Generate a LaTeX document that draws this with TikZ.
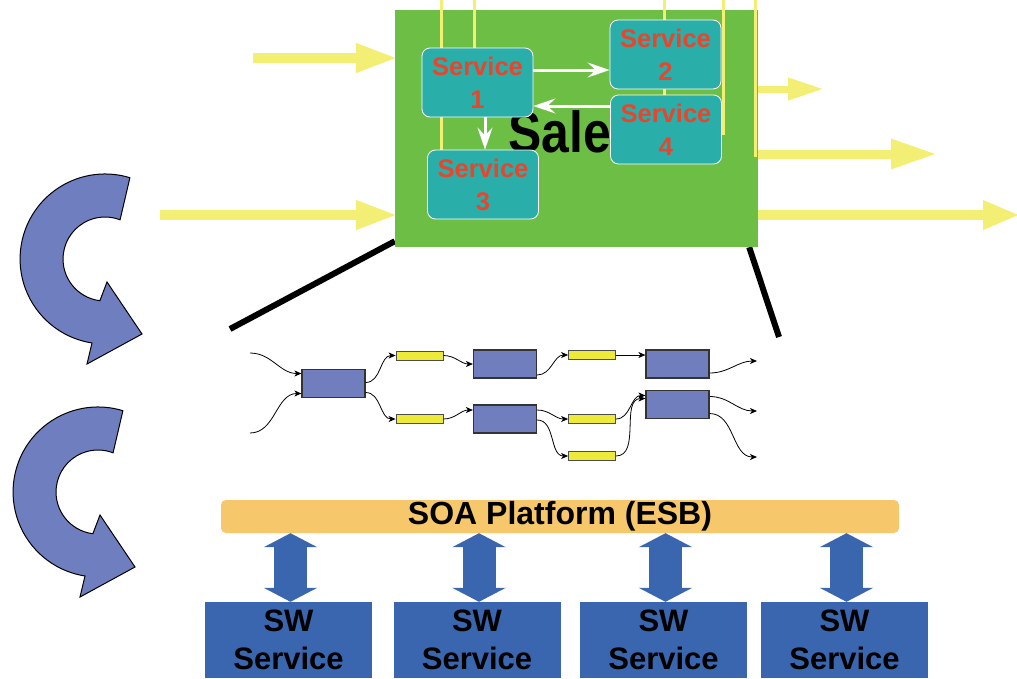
\documentclass[tikz,border=0pt]{standalone}
\usepackage{fontspec}
\setmainfont{Liberation Sans}
\newfontfamily\narrowbold[FakeStretch=0.86]{Liberation Sans Bold}
\usetikzlibrary{arrows.meta}
\definecolor{salesgreen}{HTML}{6DBE45}
\definecolor{svcteal}{HTML}{2AAEA9}
\definecolor{svcred}{HTML}{E8452C}
\definecolor{feedyellow}{HTML}{F3EE74}
\definecolor{cycblue}{HTML}{6F7EBE}
\definecolor{procblue}{HTML}{717EBD}
\definecolor{procyellow}{HTML}{EEEA3A}
\definecolor{esbamber}{HTML}{F7C76B}
\definecolor{swblue}{HTML}{3A66B0}
\tikzset{
  svc/.style={draw=white, line width=0.8pt, fill=svcteal, rounded corners=8pt,
    minimum width=111pt, minimum height=69pt, inner sep=0pt, align=center,
    text=svcred, font=\fontsize{25.5}{33}\selectfont\bfseries},
  handoff/.style={draw=white, line width=3pt, -{Stealth[length=22pt,width=15pt,inset=8pt]}},
  wire/.style={draw=feedyellow, line width=3pt},
  feed/.style={draw=feedyellow, line width=10pt, shorten >=-3pt,
    -{Triangle[length=42pt,width=27pt]}},
  procbox/.style={draw=black!80, line width=1.2pt, fill=procblue,
    minimum width=63pt, minimum height=28pt, inner sep=0pt},
  queue/.style={draw=black!70, line width=0.8pt, fill=procyellow,
    minimum width=47pt, minimum height=9pt, inner sep=0pt},
  flow/.style={line width=0.8pt, -{Stealth[length=7pt,width=6pt,inset=2pt]}},
  zoomline/.style={line width=6pt},
  swbox/.style={fill=swblue, minimum width=167pt, minimum height=76pt, inner sep=0pt,
    align=center, font=\fontsize{31}{38}\selectfont\bfseries},
  duplex/.style={draw=swblue, line width=33pt,
    {Triangle[length=14pt,width=53pt]}-{Triangle[length=14pt,width=53pt]}},
  cycarrow/.pic={
    \draw[line width=1pt, fill=cycblue] (-13,84) -- (-18,105) -- (37,75) -- (2,23)
      -- (-5.1,41.7) arc[start angle=-263, end angle=-69, radius=42]
      -- (24.9,-81.3) arc[start angle=-73, end angle=-261, radius=85] -- cycle;
  }
}
\begin{document}
\begin{tikzpicture}[x=1pt, y=-1pt]
  \useasboundingbox (0,0) rectangle (1017,678);

  % zoom lines behind the sales box
  \coordinate (zl) at (230,329);
  \coordinate (zr) at (779,337);
  \node[fill=salesgreen, minimum width=363pt, minimum height=237pt, inner sep=0pt]
    (salesbox) at (576.5,128.5) {};
  \draw[zoomline] ([yshift=6pt]salesbox.south west) -- (zl);
  \draw[zoomline] ([xshift=-9pt]salesbox.south east) -- (zr);
  \node[fill=salesgreen, minimum width=363pt, minimum height=237pt, inner sep=0pt]
    at (salesbox) {};

  \foreach \x/\y in {441/150, 474/48, 664/95, 723/135, 755/157}
    \draw[wire] (\x,0) -- (\x,\y);

  \node[anchor=base west, inner sep=0pt, font=\fontsize{58}{58}\selectfont\narrowbold]
    (salestext) at (508,152) {Sales};

  \node[svc] (s1) at (477.5,82.5) {Service\\1};
  \node[svc] (s2) at (665.5,54.5) {Service\\2};
  \node[svc] (s4) at (666,129.5) {Service\\4};
  \node[svc] (s3) at (483,184.5) {Service\\3};
  \draw[handoff] ([yshift=12.5pt]s1.east) -- ([yshift=12.5pt]s1.east -| s2.west);
  \draw[handoff] ([yshift=23.5pt]s4.west) -- ([yshift=23.5pt]s4.west -| s1.east);
  \draw[handoff] ([xshift=7.5pt]s1.south) -- ([xshift=7.5pt]s1.south |- s3.north);

  \coordinate (feed1) at (253,58);
  \coordinate (feed2) at (160,215);
  \coordinate (out1) at (821,89);
  \coordinate (out2) at (934,154);
  \coordinate (out3) at (1017,215);
  \draw[feed] (feed1) -- (feed1 -| salesbox.west);
  \draw[feed] (feed2) -- (feed2 -| salesbox.west);
  \draw[feed, line width=7pt, -{Triangle[length=36pt,width=21pt]}] (out1 -| salesbox.east) -- (out1);
  \draw[feed, line width=9pt, -{Triangle[length=46pt,width=28pt]}] (out2 -| salesbox.east) -- (out2);
  \draw[feed, -{Triangle[length=37pt,width=27pt]}] (out3 -| salesbox.east) -- (out3);

  \pic at (105,259) {cycarrow};
  \pic at (98,492) {cycarrow};

  % process
  \node[procbox] (pb1) at (333.5,383.5) {};
  \node[procbox] (pb2) at (505,364) {};
  \node[procbox] (pb3) at (677.5,364) {};
  \node[procbox] (pb4) at (505,419) {};
  \node[procbox] (pb5) at (677.5,404.5) {};
  \node[queue] (py1) at (419.5,355.5) {};
  \node[queue] (py2) at (592,355) {};
  \node[queue] (py3) at (419.5,419) {};
  \node[queue] (py4) at (592,419) {};
  \node[queue] (py5) at (592,456) {};
  \coordinate (in1) at (250,353);
  \coordinate (in2) at (250,433);
  \coordinate (res1) at (757,361);
  \coordinate (res2) at (757,411);
  \coordinate (res3) at (757,457);
  \draw[flow] (in1) to[out=0, in=180] ([yshift=10pt]pb1.west);
  \draw[flow] (in2) to[out=0, in=180] ([yshift=-10pt]pb1.west);
  \draw[flow] ([yshift=1pt]pb1.east) to[out=0, in=180] (py1.west);
  \draw[flow] ([yshift=-9pt]pb1.east) to[out=0, in=180] (py3.west);
  \draw[flow] (py1.east) to[out=0, in=180] (pb2.west);
  \draw[flow] (py3.east) to[out=0, in=180] ([yshift=9pt]pb4.west);
  \draw[flow] ([yshift=-11pt]pb2.east) to[out=0, in=180] (py2.west);
  \draw[flow] (py2.east) -- (py2.east -| pb3.west);
  \draw[flow] ([yshift=-9pt]pb3.east) to[out=0, in=180] (res1);
  \draw[flow] ([yshift=9pt]pb4.east) to[out=0, in=180] (py4.west);
  \draw[flow] ([yshift=-1pt]pb4.east) to[out=0, in=180] (py5.west);
  \draw[flow] (py4.east) to[out=0, in=180] ([yshift=9pt]pb5.west);
  \draw[flow] (py5.east) to[out=0, in=180] ([yshift=6pt]pb5.west);
  \draw[flow] ([yshift=8pt]pb5.east) to[out=0, in=180] (res2);
  \draw[flow] ([yshift=-9pt]pb5.east) to[out=0, in=180] (res3);

  % platform
  \node[fill=esbamber, rounded corners=5pt, minimum width=678pt, minimum height=33pt,
    inner sep=0pt, font=\fontsize{32}{32}\selectfont\bfseries] (esb) at (560,516.5)
    {SOA Platform (ESB)};
  \node[swbox] (sw1) at (288.5,640) {SW\\Service};
  \node[swbox] (sw2) at (477,640) {SW\\Service};
  \node[swbox] (sw3) at (663.5,640) {SW\\Service};
  \node[swbox] (sw4) at (844.5,640) {SW\\Service};
  \foreach \i in {1,...,4}
    \draw[duplex] ([xshift=2pt]sw\i.north |- esb.south) -- ([xshift=2pt]sw\i.north);
\end{tikzpicture}
\end{document}
